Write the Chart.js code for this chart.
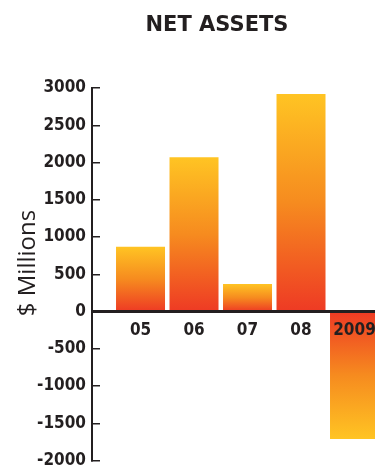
<!DOCTYPE html>
<html>
<head>
<meta charset="utf-8">
<title>Net Assets</title>
<script src="https://cdn.jsdelivr.net/npm/chart.js@4.4.1/dist/chart.umd.min.js"></script>
<style>
  html, body { margin: 0; padding: 0; background: #ffffff; overflow: hidden; }
  #wrap { position: relative; width: 375px; height: 468px; }
  canvas { display: block; }
</style>
</head>
<body>
<div id="wrap"><canvas id="chart" width="375" height="468"></canvas></div>
<script>
// Fiscal years and net assets ($ millions)
const years = ['05', '06', '07', '08', '2009'];
const netAssets = [870, 2070, 370, 2920, -1710];
const yTicks = [-2000, -1500, -1000, -500, 0, 500, 1000, 1500, 2000, 2500, 3000];
const chartTitle = 'NET ASSETS';
const axisCaption = '$ Millions';

const INK = '#231f20';
const GOLD = '#ffc423';
const AMBER = '#f68b1f';
const RED = '#ee3a24';
const TICK_FONT = { family: '"DejaVu Sans Condensed", "DejaVu Sans", sans-serif', size: 17, weight: 'bold' };

// Each bar fades from gold at its tip to red at the zero line
function barGradient(ctx) {
  const chart = ctx.chart;
  const y = chart.scales && chart.scales.y;
  if (!y || !ctx.parsed) return AMBER;
  const tip = y.getPixelForValue(ctx.parsed.y);
  const base = y.getPixelForValue(0);
  if (!isFinite(tip) || !isFinite(base) || tip === base) return AMBER;
  const g = chart.ctx.createLinearGradient(0, tip, 0, base);
  g.addColorStop(0, GOLD);
  g.addColorStop(0.5, AMBER);
  g.addColorStop(1, RED);
  return g;
}

// Headline and rotated axis caption
const captions = {
  id: 'captions',
  afterDraw(chart) {
    const c = chart.ctx;
    c.save();
    c.fillStyle = INK;
    c.textAlign = 'center';
    c.textBaseline = 'alphabetic';
    c.font = 'bold 21px "DejaVu Sans", sans-serif';
    c.fillText(chartTitle, 217, 31);
    c.translate(35, 263);
    c.rotate(-Math.PI / 2);
    c.font = '24px "Open Sans", sans-serif';
    c.fillText(axisCaption, 0, 0);
    c.restore();
  }
};

new Chart(document.getElementById('chart'), {
  type: 'bar',
  data: {
    datasets: [{
      data: netAssets.map((v, i) => ({ x: i, y: v })),
      backgroundColor: barGradient,
      borderWidth: 0,
      barPercentage: 0.916,
      categoryPercentage: 1
    }]
  },
  options: {
    responsive: false,
    devicePixelRatio: 1,
    animation: false,
    events: [],
    layout: { padding: { top: 88, bottom: 7.5, left: 0, right: 0 } },
    plugins: {
      legend: { display: false },
      tooltip: { enabled: false },
      title: { display: false }
    },
    scales: {
      x: {
        type: 'linear',
        min: -0.907,
        max: 4.383,
        offset: false,
        position: { y: 0 },
        grid: { display: true, drawOnChartArea: false, drawTicks: false, offset: false },
        border: { display: true, color: INK, width: 3, z: 1 },
        afterBuildTicks: s => { s.ticks = years.map((_, i) => ({ value: i })); },
        afterFit: s => { s.paddingLeft = 0; s.paddingRight = 0; },
        ticks: {
          callback: v => years[v],
          font: TICK_FONT,
          color: INK,
          padding: 9,
          maxRotation: 0,
          autoSkip: false,
          z: 1
        }
      },
      y: {
        min: -2000,
        max: 3000,
        afterBuildTicks: s => { s.ticks = yTicks.map(v => ({ value: v })); },
        grid: { drawOnChartArea: false, drawTicks: true, tickLength: -8, color: INK, lineWidth: 1.5 },
        border: { display: true, color: INK, width: 2 },
        ticks: {
          callback: v => String(v),
          font: TICK_FONT,
          color: INK,
          padding: 14
        },
        afterFit: s => { s.width = 92; s.paddingTop = 0; s.paddingBottom = 0; }
      }
    }
  },
  plugins: [captions]
});
</script>
</body>
</html>
